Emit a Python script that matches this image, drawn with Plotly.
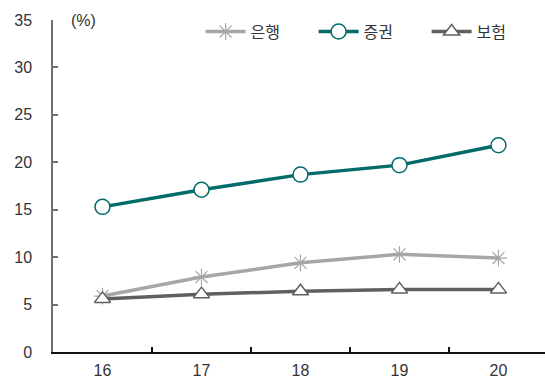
import plotly.graph_objects as go

years = ["16", "17", "18", "19", "20"]
bank = [5.9, 7.9, 9.4, 10.3, 9.9]
securities = [15.3, 17.1, 18.7, 19.7, 21.8]
insurance = [5.6, 6.1, 6.4, 6.6, 6.6]

font_family = "Liberation Sans, Arial, Noto Sans CJK KR"

fig = go.Figure()

fig.add_trace(go.Scatter(
    x=years, y=bank, name="은행", mode="lines+markers",
    line=dict(color="#A6A6A6", width=3.5),
    marker=dict(symbol="asterisk-open", size=14, color="#A6A6A6",
                line=dict(color="#A6A6A6", width=1.2)),
))
fig.add_trace(go.Scatter(
    x=years, y=securities, name="증권", mode="lines+markers",
    line=dict(color="#006B68", width=3.5),
    marker=dict(symbol="circle", size=15, color="white",
                line=dict(color="#006B68", width=1.5)),
))
fig.add_trace(go.Scatter(
    x=years, y=insurance, name="보험", mode="lines+markers",
    line=dict(color="#606060", width=3.5),
    marker=dict(symbol="triangle-up", size=14, color="white",
                line=dict(color="#606060", width=1.5)),
))

fig.add_annotation(
    text="(%)", xref="paper", yref="paper", x=0.033, y=1.0,
    xanchor="left", yanchor="middle", showarrow=False,
    font=dict(size=16, color="#333333", family=font_family),
)

fig.update_layout(
    width=545, height=380,
    margin=dict(l=53, r=0, t=20, b=28),
    paper_bgcolor="white", plot_bgcolor="white",
    font=dict(family=font_family, size=16, color="#333333"),
    showlegend=True,
    legend=dict(
        orientation="h", x=0.3, y=0.965, xanchor="left", yanchor="middle",
        font=dict(size=16, color="#333333", family=font_family),
        bgcolor="rgba(0,0,0,0)", itemwidth=40, tracegroupgap=0,
        entrywidth=58, entrywidthmode="pixels",
    ),
    xaxis=dict(
        type="category", range=[-0.5, 4.47], automargin=False,
        showline=True, linecolor="#111111", linewidth=1.5,
        ticks="inside", ticklen=5, tickcolor="#111111", tickwidth=1.5,
        tickson="boundaries", showgrid=False, zeroline=False,
        ticklabelstandoff=3,
    ),
    yaxis=dict(
        range=[0, 35], dtick=5, automargin=False,
        showline=True, linecolor="#707070", linewidth=1.5,
        ticks="inside", ticklen=5, tickcolor="#707070", tickwidth=1.5,
        showgrid=False, zeroline=False, ticklabelstandoff=16,
    ),
)

fig.write_html("out.html")
